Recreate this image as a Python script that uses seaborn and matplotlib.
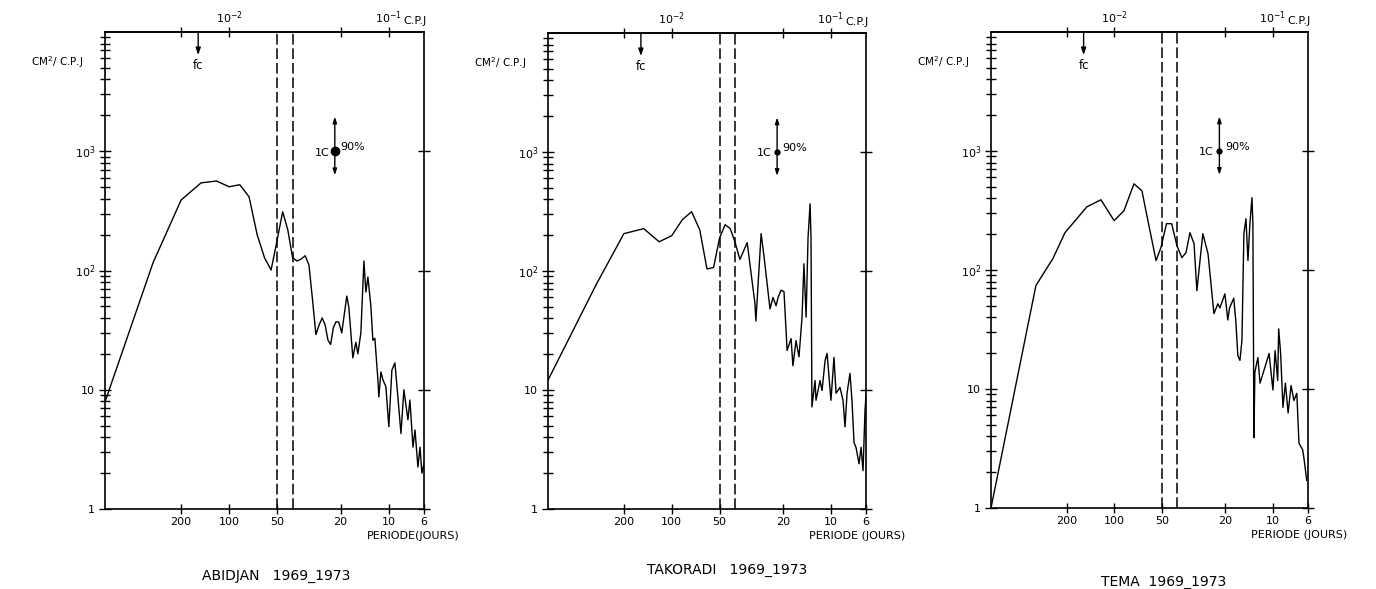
import numpy as np
import pandas as pd
import matplotlib
matplotlib.use("Agg")
import matplotlib.pyplot as plt
import seaborn as sns
from matplotlib.ticker import FixedLocator, NullLocator, NullFormatter, LogLocator

# ---------------- data ----------------
# frequencies are given as harmonic numbers of the base frequency 1/600 cycle per day
FREQ_UNIT = 1.0 / 600.0

abidjan_harm = [1, 2, 3, 4, 5, 6, 7, 8, 9, 10, 11, 12, 13, 14, 15, 16, 17, 18, 19, 20,
                21, 22, 23, 24, 25, 26, 27, 28, 29.2, 30.5, 32.8, 33.8, 35.8, 37.4, 38.5,
                40.2, 42, 43.2, 44.5, 46.4, 47.8, 49.2, 51.4, 52.1, 53.7, 55.3, 57.7, 60.2,
                62.9, 65.7, 68.6, 71.7, 74.8, 79.3, 81.6, 85.3, 87.8, 91.6, 94.4, 97, 100]
abidjan_psd = [7.9, 116, 390, 543, 563, 504, 524, 415, 199, 128, 101, 180, 311, 219, 128,
               120, 125, 133, 111, 57, 29, 35, 40, 35, 26, 24, 33, 37, 37, 30, 61, 49, 18.5,
               25, 20, 30, 120, 66, 88, 51, 26, 27, 12.1, 8.7, 14.1, 12.1, 10.6, 4.9, 14.6,
               16.8, 8.7, 4.3, 10, 5.6, 8.2, 3.3, 4.6, 2.25, 3.3, 2.0, 2.4]

takoradi_harm = [1, 2, 3, 4, 5, 6, 7, 8, 9, 10, 11, 12, 13, 14, 15, 16.1, 17.9, 20, 20.3,
                 21.9, 22.8, 24.9, 26, 27.2, 28, 29.2, 30.5, 31.9, 33.8, 34.7, 36.3, 37.9,
                 39.6, 40.7, 42, 43.2, 44.5, 45.1, 45.7, 47.8, 48.5, 51.4, 52.9, 55.3, 56.9,
                 60.2, 62.9, 64.8, 68.6, 71.7, 73.8, 76, 79.3, 81.6, 84.1, 86.5, 90.4, 93.1,
                 95.8, 98.6, 100]
takoradi_psd = [12.1, 76, 206, 227, 176, 198, 270, 315, 222, 104, 107, 190, 245, 227, 175,
                125, 173, 54, 38, 206, 135, 48, 60, 51, 60, 69, 67, 21.5, 27, 16, 26, 19,
                41, 115, 41, 190, 367, 190, 7.2, 12, 8.2, 12, 9.9, 17.7, 20.3, 8.2, 18.8,
                9.4, 10.5, 8.2, 4.9, 9.4, 13.8, 8.2, 3.6, 3.3, 2.4, 3.3, 2.1, 6.8, 9]

tema_harm = [1, 1.92, 2.46, 2.93, 4.03, 4.94, 5.98, 6.9, 7.98, 8.96, 9.77, 11, 11.8, 12.8,
             13.8, 14.9, 16, 17, 18, 19.1, 19.9, 21.7, 23.4, 25.5, 27, 27.8, 29.9, 31.2, 32,
             34, 35, 36.1, 37.2, 38.3, 39.4, 40.6, 41.8, 43, 44.3, 44.9, 45.6, 46.2, 48.3,
             49.8, 52, 54.4, 56.8, 60.1, 62, 64.4, 65.3, 67.2, 69.5, 72, 74.9, 78.2, 81.5,
             85, 87.7, 92.4, 94, 98.2]
tema_psd = [1.0, 74, 125, 206, 340, 389, 260, 315, 530, 463, 260, 120, 154, 245, 245, 160,
            127, 140, 206, 166, 67, 202, 137, 43, 52, 48, 63, 38, 48, 58, 38, 19, 17.4,
            25.6, 202, 270, 120, 245, 405, 245, 3.9, 13.8, 18.4, 11.2, 13.5, 16.4, 19.9,
            9.8, 21, 11.8, 32, 19.9, 7, 11.2, 6.3, 10.7, 8, 9.2, 3.5, 3.1, 2.7, 1.7]

titles = ["ABIDJAN   1969_1973", "TAKORADI   1969_1973", "TEMA  1969_1973"]
period_labels = ["PERIODE(JOURS)", "PERIODE (JOURS)", "PERIODE (JOURS)"]
period_ticks = [200, 100, 50, 20, 10, 6]          # days
top_ticks_cpj = [5e-3, 1e-2, 5e-2, 1e-1]
top_tick_labels = ["", "10$^{-2}$", "", "10$^{-1}$"]
y_ticks = [1, 10, 100, 1000]
y_tick_labels = ["1", "10", "10$^{2}$", "10$^{3}$"]
band_periods = [50, 40]                            # dashed lines (days)
fc_cpj = 0.0064
ic_cpj = 0.046
ic_low, ic_mid, ic_high = 630, 1000, 1950

series = [(abidjan_harm, abidjan_psd), (takoradi_harm, takoradi_psd), (tema_harm, tema_psd)]

# ---------------- layout ----------------
W, H = 1376, 589
axes_px = [(105, 32, 424, 509), (548, 33, 866, 509), (991, 32, 1308, 508)]
title_px = [(276, 576), (727, 570), (1164, 582)]
dot_sizes = [6, 3.5, 3.5]

sns.set_theme(style="ticks")
plt.rcParams["font.family"] = ["DejaVu Sans"]
plt.rcParams["axes.linewidth"] = 1.2
plt.rcParams["mathtext.default"] = "regular"
for key in ["text.color", "axes.labelcolor", "xtick.color", "ytick.color", "axes.edgecolor"]:
    plt.rcParams[key] = "black"

fig = plt.figure(figsize=(W / 100, H / 100), dpi=100)
fig.patch.set_facecolor("white")

for i, ((harm, psd), (l, t, r, b)) in enumerate(zip(series, axes_px)):
    ax = fig.add_axes([l / W, 1 - b / H, (r - l) / W, (b - t) / H])
    df = pd.DataFrame({"freq": np.asarray(harm) * FREQ_UNIT, "psd": psd})
    sns.lineplot(data=df, x="freq", y="psd", ax=ax, color="black", lw=1.0)
    ax.set_xscale("log")
    ax.set_yscale("log")
    ax.set_xlim(1 / 600, 1 / 6)
    ax.set_ylim(1, 1e4)
    ax.set_xlabel("")
    ax.set_ylabel("")
    for s in ax.spines.values():
        s.set_color("black")
        s.set_linewidth(1.2)

    # y axis
    ax.yaxis.set_major_locator(FixedLocator(y_ticks))
    ax.set_yticklabels(y_tick_labels)
    ax.yaxis.set_minor_locator(LogLocator(base=10, subs=range(2, 10), numticks=20))
    ax.yaxis.set_minor_formatter(NullFormatter())
    ax.tick_params(axis="y", which="both", direction="inout", left=True, right=False,
                   width=1, colors="black", labelsize=8, pad=3)
    ax.tick_params(axis="y", which="major", length=8, right=True, labelright=False)
    ax.tick_params(axis="y", which="minor", length=7)

    # bottom x axis : periods
    ax.xaxis.set_major_locator(FixedLocator([1 / p for p in period_ticks]))
    ax.set_xticklabels([str(p) for p in period_ticks])
    ax.xaxis.set_minor_locator(NullLocator())
    ax.tick_params(axis="x", which="major", direction="inout", length=7, width=1,
                   top=False, labelsize=8, pad=2, colors="black")

    # top x axis : frequencies
    sec = ax.secondary_xaxis("top")
    sec.set_xticks(top_ticks_cpj)
    sec.set_xticklabels(top_tick_labels)
    sec.xaxis.set_minor_locator(NullLocator())
    sec.tick_params(direction="inout", length=7, width=1, labelsize=8, pad=1, colors="black")
    sec.spines["top"].set_linewidth(1.2)
    ax.text(0.934, 1.0 + 11 / (b - t), "C.P.J", transform=ax.transAxes, ha="left",
            va="center", fontsize=8)

    # dashed band
    for p in band_periods:
        ax.axvline(1 / p, color="black", lw=1.1, ls=(0, (7, 2.5)))

    # fc arrow
    ax.annotate("", xy=(fc_cpj, 6400), xytext=(fc_cpj, 1e4),
                arrowprops=dict(arrowstyle="-|>,head_width=0.12,head_length=0.35",
                                color="black", lw=1.0, shrinkA=0, shrinkB=0))
    ax.text(fc_cpj, 5900, "fc", ha="center", va="top", fontsize=8.5)

    # confidence interval
    ax.annotate("", xy=(ic_cpj, ic_high), xytext=(ic_cpj, ic_low),
                arrowprops=dict(arrowstyle="<|-|>,head_width=0.1,head_length=0.3",
                                color="black", lw=1.0, shrinkA=0, shrinkB=0))
    ax.plot([ic_cpj], [ic_mid], "o", color="black", ms=dot_sizes[i])
    ax.annotate("1C", xy=(ic_cpj, ic_mid), xytext=(-4, -1), textcoords="offset points",
                ha="right", va="center", fontsize=8)
    ax.annotate("90%", xy=(ic_cpj, ic_mid), xytext=(4, 3), textcoords="offset points",
                ha="left", va="center", fontsize=8)

    # axis captions
    ax.text(-22 / (r - l), 1 - 30 / (b - t), "CM$^{2}$/ C.P.J", transform=ax.transAxes,
            ha="right", va="center", fontsize=7.5)
    ax.text(0.82, -27 / (b - t), period_labels[i], transform=ax.transAxes,
            ha="left", va="center", fontsize=8)

    tx, ty = title_px[i]
    fig.text(tx / W, 1 - ty / H, titles[i], ha="center", va="center", fontsize=10)

fig.savefig("out.png", dpi=100, facecolor="white")
